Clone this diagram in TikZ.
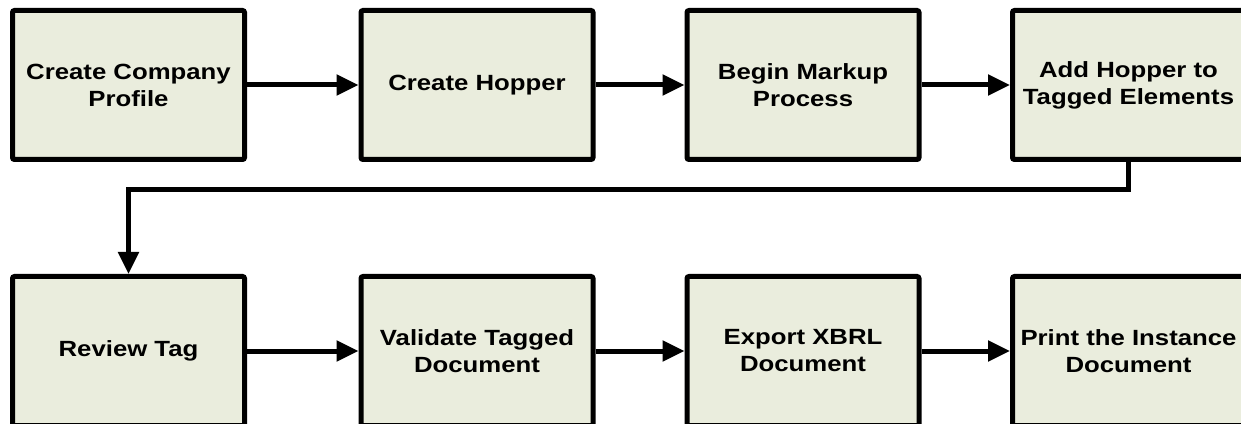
\documentclass[tikz,border=0pt]{standalone}
\usepackage{fontspec}
\setmainfont{Liberation Sans}[FakeStretch=1.17]
\usetikzlibrary{arrows.meta}
\definecolor{boxfill}{RGB}{234,237,221}
\tikzset{
  stepbox/.style={draw=black, line width=5pt, fill=boxfill, rounded corners=2pt,
    minimum width=232pt, minimum height=149pt, inner sep=0pt, align=center,
    font=\fontsize{22pt}{27pt}\selectfont\bfseries},
  flow/.style={line width=5pt, -{Triangle[length=22pt,width=20pt]}}
}
\begin{document}
\begin{tikzpicture}[x=1pt,y=1pt]
  \useasboundingbox (0,0) rectangle (1241,423);
  \clip (0,0) rectangle (1241,423);
  % first row
  \node[stepbox] (profile) at (128.5,338) {Create Company\\Profile};
  \node[stepbox] (hopper)  at (477,338)   {Create Hopper};
  \node[stepbox] (markup)  at (803,338)   {Begin Markup\\Process};
  \node[stepbox] (addtag)  at (1128.5,338) {Add Hopper to\\Tagged Elements};
  % second row
  \node[stepbox] (review)   at (128.5,72) {Review Tag};
  \node[stepbox] (validate) at (477,72)   {Validate Tagged\\Document};
  \node[stepbox] (export)   at (803,72)   {Export XBRL\\Document};
  \node[stepbox] (print)    at (1128.5,72) {Print the Instance\\Document};
  % connectors
  \draw[flow] (profile) -- (hopper);
  \draw[flow] (hopper) -- (markup);
  \draw[flow] (markup) -- (addtag);
  \coordinate (turn) at (1128.5,233);
  \draw[flow] (addtag.south) -- (turn) -| (review.north);
  \draw[flow] (review) -- (validate);
  \draw[flow] (validate) -- (export);
  \draw[flow] (export) -- (print);
\end{tikzpicture}
\end{document}
